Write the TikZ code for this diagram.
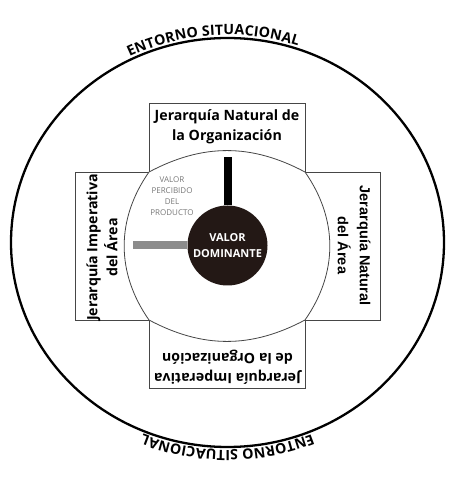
\documentclass[tikz,border=0pt]{standalone}
\usepackage{fontspec}
\setmainfont{Open Sans}
\newfontfamily\arialf{Liberation Sans}
\usetikzlibrary{decorations.text}
\definecolor{dom}{RGB}{35,24,21}
\definecolor{bargray}{RGB}{140,140,140}
\definecolor{boxline}{RGB}{70,70,70}
\definecolor{softgray}{RGB}{120,120,120}
\begin{document}
\begin{tikzpicture}[x=1pt,y=1pt,
  boxrect/.style={draw=boxline, line width=0.8pt, fill=white},
  lbl/.style={align=center, font=\bfseries\fontsize{14.2}{20}\selectfont, inner sep=0pt},
  ringtext/.style={decorate, decoration={text along path,
     text={|\bfseries\fontsize{14.2}{18}\selectfont|ENTORNO SITUACIONAL}, text align=center, raise=3pt}},
  bar/.style={line width=8pt}]
\useasboundingbox (0,0) rectangle (463,483);
\fill[white] (0,0) rectangle (463,483);
\coordinate (O) at (227.5,240.5);
% outer ring
\draw[line width=2.3pt] (O) ellipse [x radius=216.5, y radius=204.5];
\path (O) ++(154:216.5 and 204.5) coordinate (ts);
\path (O) ++(-30:216.5 and 204.5) coordinate (bs);
\path[ringtext] (ts) arc[start angle=154, end angle=34, x radius=216.5, y radius=204.5];
\path[ringtext] (bs) arc[start angle=-30, end angle=-150, x radius=216.5, y radius=204.5];
% boxes of the cross
\draw[boxrect] (149,290) rectangle (305,380);
\draw[boxrect] (149,95) rectangle (305,185);
\draw[boxrect] (75,163) rectangle (170,311);
\draw[boxrect] (285,163) rectangle (380,311);
% inner bulging square
\coordinate (tl) at (149,311);
\coordinate (tr) at (305,311);
\coordinate (br) at (305,163);
\coordinate (bl) at (149,163);
\draw[boxline, line width=0.8pt, fill=white]
  (tl) to[bend left=28] (tr) to[bend left=35] (br) to[bend left=28] (bl) to[bend left=35] cycle;
% centre
\node[circle, fill=dom, minimum size=80pt, inner sep=0pt, text=white, align=center,
      font=\bfseries\fontsize{11}{16}\selectfont] (vd) at (227.5,237.5) {VALOR\\DOMINANTE};
\coordinate (btop) at (227.5,326);
\coordinate (gl) at (133,237.5);
\draw[bar, black] (vd.north) -- (btop);
\draw[bar, bargray] (vd.west) -- (gl);
\node[text=softgray, align=center, inner sep=0pt, font=\fontsize{8}{11}\selectfont] (vp) at (172,286.5)
  {VALOR\\PERCIBIDO\\DEL\\PRODUCTO};
% labels
\node[lbl] (tn) at (227,356) {Jerarquía Natural de\\la Organización};
\node[lbl, rotate=90] (ln) at (102,235.5) {Jerarquía Imperativa\\del Área};
\node[lbl, rotate=-90, font=\arialf\bfseries\fontsize{14.5}{22}\selectfont] (rn) at (354,237.5) {Jerarquía Natural\\del Área};
\node[lbl, rotate=180] (bn) at (227.5,116) {Jerarquía Imperativa\\de la Organización};
\end{tikzpicture}
\end{document}
